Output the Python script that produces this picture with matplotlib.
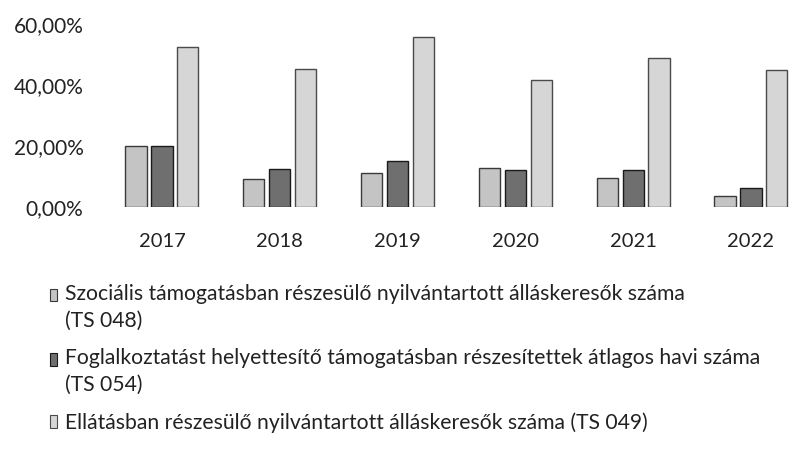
import matplotlib
matplotlib.use("Agg")
import matplotlib.pyplot as plt
from matplotlib.patches import Patch, Rectangle
from matplotlib.legend_handler import HandlerPatch
from matplotlib.ticker import FuncFormatter
import numpy as np

plt.rcParams['font.family'] = ['Lato', 'DejaVu Sans']

# ----------------- data -----------------
years = ["2017", "2018", "2019", "2020", "2021", "2022"]
ts048 = [20.0, 9.2, 11.1, 12.8, 9.5, 3.6]
ts054 = [20.0, 12.5, 15.1, 12.1, 12.1, 6.2]
ts049 = [52.5, 45.2, 55.7, 41.6, 48.9, 44.9]

labels = [
    "Szociális támogatásban részesülő nyilvántartott álláskeresők száma\n(TS 048)",
    "Foglalkoztatást helyettesítő támogatásban részesítettek átlagos havi száma\n(TS 054)",
    "Ellátásban részesülő nyilvántartott álláskeresők száma (TS 049)",
]

faces = ["#c4c4c4", "#6f6f6f", "#d6d6d6"]
edges = ["#3a3a3a", "#1a1a1a", "#4a4a4a"]


def top_line_patch(legend, orig_handle, xdescent, ydescent, width, height, fontsize):
    # put the marker next to the first text line of a two-line label
    return Rectangle((-xdescent, -ydescent + 0.6 * fontsize), width, height)


# ----------------- plot -----------------
fig = plt.figure(figsize=(8.01, 4.53), dpi=100)
ax = fig.add_axes([0.1286, 0.543, 0.8824, 0.404])

x = np.arange(len(years))
w = 0.18
off = 0.22
for i, vals in enumerate([ts048, ts054, ts049]):
    ax.bar(x + (i - 1) * off, vals, width=w, color=faces[i],
           edgecolor=edges[i], linewidth=1.0, zorder=2)

ax.set_xlim(-0.5, len(years) - 0.5)
ax.set_ylim(0, 60)
ax.set_yticks([0, 20, 40, 60])
ax.yaxis.set_major_formatter(FuncFormatter(lambda v, p: f"{v:.2f}%".replace(".", ",")))
ax.set_xticks(x)
ax.set_xticklabels(years)
ax.tick_params(axis="both", length=0, colors="#222222")
ax.tick_params(axis="y", pad=14, labelsize=15)
ax.tick_params(axis="x", pad=19, labelsize=14.5)
for s in ax.spines.values():
    s.set_visible(False)

handles = [Patch(facecolor=faces[i], edgecolor=edges[i], linewidth=0.8) for i in range(3)]
hmap = {handles[0]: HandlerPatch(patch_func=top_line_patch),
        handles[1]: HandlerPatch(patch_func=top_line_patch)}
leg = fig.legend(handles, labels, loc="upper left", bbox_to_anchor=(0.0624, 0.373),
                 frameon=False, fontsize=15.2, handlelength=0.35, handleheight=0.55,
                 handletextpad=0.35, labelspacing=0.85, borderpad=0, borderaxespad=0,
                 labelcolor="#222222", handler_map=hmap)
for t in leg.get_texts():
    t.set_linespacing(1.4)

fig.savefig("out.png", dpi=100)
